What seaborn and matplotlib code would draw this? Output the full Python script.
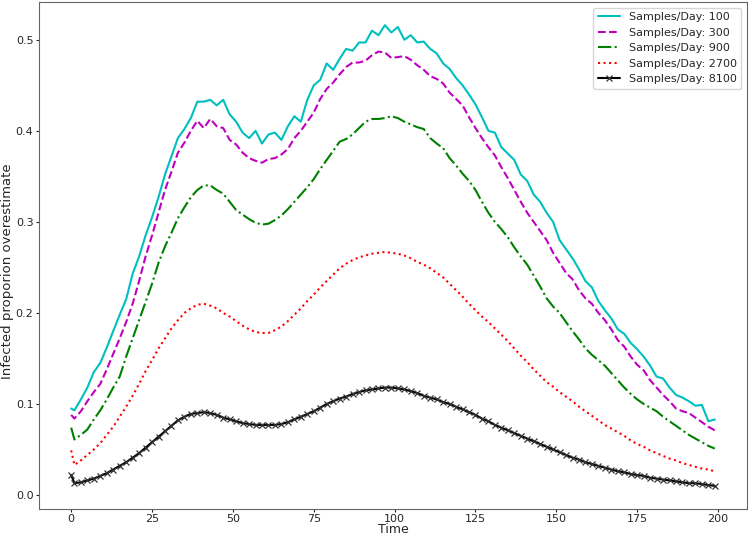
import numpy as np
import pandas as pd
import matplotlib
matplotlib.use("Agg")
import matplotlib.pyplot as plt
import seaborn as sns

# time steps (day 0, then every other day)
time = [0] + list(range(1, 200, 2))

samples_100 = [
    .095, .093, .105, .118, .135, .145, .162, .180, .198, .215, .243, .262, .285, .305, .327, .352,
    .372, .392, .402, .414, .432, .432, .434, .428, .434, .418, .410, .398, .392, .400, .386, .396,
    .398, .390, .405, .416, .410, .434, .450, .456, .474, .467, .479, .490, .488, .497, .497, .510,
    .505, .516, .508, .514, .500, .505, .497, .498, .490, .485, .474, .468, .458, .450, .440, .429,
    .415, .400, .398, .382, .375, .368, .352, .345, .330, .322, .310, .300, .280, .270, .260, .248,
    .235, .228, .213, .203, .194, .182, .177, .167, .160, .152, .142, .130, .128, .118, .110, .107,
    .103, .098, .099, .081, .083]

samples_300 = [
    .088, .084, .092, .103, .113, .122, .138, .155, .172, .190, .210, .235, .262, .285, .310, .335,
    .355, .376, .387, .400, .411, .403, .413, .405, .403, .390, .385, .376, .370, .367, .365, .369,
    .370, .374, .380, .392, .400, .410, .420, .435, .446, .453, .462, .470, .475, .475, .477, .483,
    .487, .486, .480, .481, .482, .478, .472, .467, .460, .457, .452, .442, .435, .428, .415, .403,
    .392, .382, .373, .360, .348, .335, .322, .310, .300, .290, .280, .266, .255, .244, .237, .225,
    .216, .210, .200, .192, .182, .170, .163, .152, .143, .137, .126, .118, .110, .103, .095, .092,
    .090, .085, .080, .075, .071]

samples_900 = [
    .074, .061, .066, .072, .083, .093, .105, .118, .130, .152, .172, .192, .212, .232, .255, .273,
    .288, .304, .316, .327, .335, .340, .340, .335, .331, .322, .313, .308, .303, .299, .297, .298,
    .302, .307, .314, .322, .330, .338, .347, .358, .368, .378, .388, .391, .396, .403, .410, .413,
    .413, .414, .416, .414, .410, .407, .404, .402, .392, .386, .381, .370, .362, .353, .345, .335,
    .322, .310, .300, .292, .283, .272, .262, .253, .241, .229, .216, .207, .200, .190, .180, .171,
    .161, .154, .148, .142, .134, .126, .118, .111, .105, .100, .096, .092, .086, .081, .076, .071,
    .066, .062, .058, .054, .051]

samples_2700 = [
    .049, .033, .038, .044, .050, .057, .066, .075, .086, .097, .109, .122, .136, .148, .161, .172,
    .183, .192, .200, .205, .209, .210, .208, .205, .200, .196, .191, .186, .182, .179, .178, .178,
    .181, .185, .191, .198, .205, .213, .220, .228, .235, .242, .249, .254, .258, .261, .263, .265,
    .266, .267, .266, .265, .263, .260, .256, .253, .249, .244, .239, .232, .225, .218, .210, .203,
    .196, .190, .183, .176, .169, .161, .153, .146, .138, .131, .124, .119, .113, .108, .103, .097,
    .092, .087, .082, .077, .073, .069, .065, .060, .056, .053, .049, .046, .043, .040, .038, .035,
    .033, .031, .029, .028, .026]

samples_8100 = [
    .022, .013, .014, .016, .018, .021, .024, .028, .032, .036, .041, .046, .052, .058, .064, .070,
    .076, .082, .086, .089, .090, .091, .090, .088, .085, .083, .081, .079, .078, .077, .077, .077,
    .077, .078, .080, .083, .086, .089, .092, .096, .100, .103, .106, .108, .111, .113, .115, .116,
    .117, .118, .118, .117, .116, .114, .112, .109, .107, .105, .102, .100, .097, .094, .091, .088,
    .084, .081, .077, .074, .071, .068, .065, .062, .059, .056, .053, .050, .047, .044, .041, .039,
    .036, .034, .032, .030, .028, .026, .025, .023, .022, .021, .019, .018, .017, .016, .015, .014,
    .013, .013, .012, .011, .010]

labels = ["Samples/Day: 100", "Samples/Day: 300", "Samples/Day: 900",
          "Samples/Day: 2700", "Samples/Day: 8100"]
series = [samples_100, samples_300, samples_900, samples_2700, samples_8100]

sns.set_style("ticks", {"axes.edgecolor": ".4", "text.color": ".15",
                        "xtick.color": ".15", "ytick.color": ".15"})
plt.rcParams['font.family'] = ['DejaVu Sans']
plt.rcParams['xtick.major.size'] = 2.5
plt.rcParams['ytick.major.size'] = 2.5
plt.rcParams['xtick.major.pad'] = 1
plt.rcParams['ytick.major.pad'] = 1.5
plt.rcParams['xtick.labelsize'] = 8
plt.rcParams['ytick.labelsize'] = 8

fig, ax = plt.subplots(figsize=(7.5, 5.38), dpi=100)

styles = [
    dict(color="c", linestyle="-"),
    dict(color="m", linestyle="--"),
    dict(color="g", linestyle="-."),
    dict(color="r", linestyle=":"),
    dict(color="k", linestyle="-", marker="x", markersize=4.5,
         markeredgewidth=0.9, markeredgecolor="#333333"),
]

for vals, lab, st in zip(series, labels, styles):
    df = pd.DataFrame({"Time": time, "value": vals})
    sns.lineplot(data=df, x="Time", y="value", label=lab, linewidth=1.5, ax=ax, **st)

ax.set_xlabel("Time", fontsize=9)
ax.set_ylabel("Infected proporion overestimate", fontsize=9.5)
ax.xaxis.set_label_coords(0.5, -0.027)
ax.yaxis.set_label_coords(-0.035, 0.47)
ax.set_xticks([0, 25, 50, 75, 100, 125, 150, 175, 200])
ax.set_yticks([0.0, 0.1, 0.2, 0.3, 0.4, 0.5])
ax.legend(loc="upper right", fontsize=8)

plt.subplots_adjust(left=0.052, right=0.996, top=0.996, bottom=0.054)
plt.savefig("out.png", dpi=100)
plt.close()
